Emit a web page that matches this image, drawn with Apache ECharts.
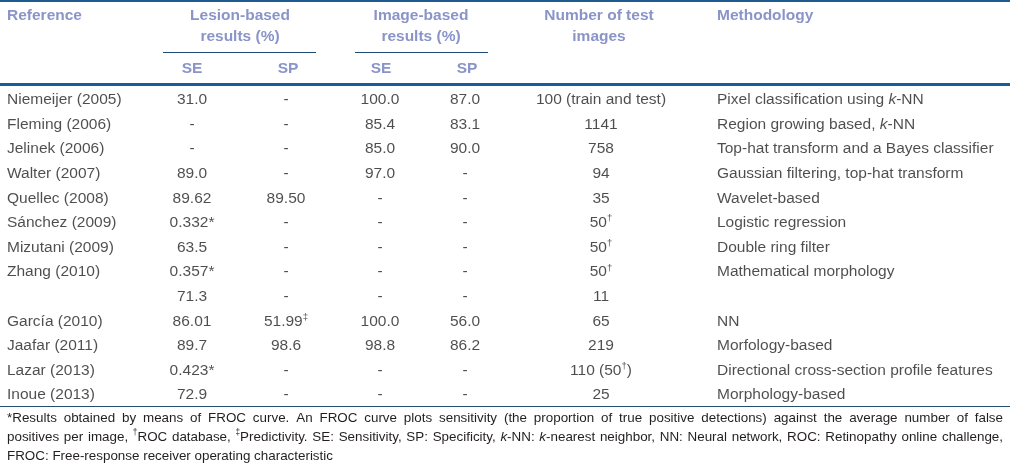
<!DOCTYPE html>
<html><head><meta charset="utf-8">
<script src="https://cdn.jsdelivr.net/npm/echarts@6/dist/echarts.min.js"></script>
<style>html,body{margin:0;padding:0;background:#fff}#c{width:1010px;height:466px}</style>
</head><body><div id="c"></div>
<script>
// ---- data ----
const references = ['Niemeijer (2005)','Fleming (2006)','Jelinek (2006)','Walter (2007)','Quellec (2008)','Sánchez (2009)','Mizutani (2009)','Zhang (2010)','','García (2010)','Jaafar (2011)','Lazar (2013)','Inoue (2013)'];
const lesionSE = ['31.0','-','-','89.0','89.62','0.332*','63.5','0.357*','71.3','86.01','89.7','0.423*','72.9'];
const lesionSP = ['-','-','-','-','89.50','-','-','-','-','51.99‡','98.6','-','-'];
const imageSE = ['100.0','85.4','85.0','97.0','-','-','-','-','-','100.0','98.8','-','-'];
const imageSP = ['87.0','83.1','90.0','-','-','-','-','-','-','56.0','86.2','-','-'];
const testImages = ['100 (train and test)','1141','758','94','35','50†','50†','50†','11','65','219','110 (50†)','25'];
const methodology = ['Pixel classification using k-NN','Region growing based, k-NN','Top-hat transform and a Bayes classifier','Gaussian filtering, top-hat transform','Wavelet-based','Logistic regression','Double ring filter','Mathematical morphology','','NN','Morfology-based','Directional cross-section profile features','Morphology-based'];

const colHeaders = ['Reference', 'Number of test', 'images', 'Methodology'];
const groupHeaders = ['Lesion-based', 'results (%)', 'Image-based', 'results (%)'];
const subHeaders = ['SE', 'SP', 'SE', 'SP'];
const footnote = [
  '*Results obtained by means of FROC curve. An FROC curve plots sensitivity (the proportion of true positive detections) against the average number of false',
  'positives per image, †ROC database, ‡Predictivity. SE: Sensitivity, SP: Specificity, k-NN: k-nearest neighbor, NN: Neural network, ROC: Retinopathy online challenge,',
  'FROC: Free-response receiver operating characteristic'
];

// ---- layout / style ----
const FONT = '"Liberation Sans", Arial, Helvetica, sans-serif';
const bodySize = 15.5, headSize = 15.5, footSize = 13.4;
const textColor = '#231f20', headColor = '#8a94c8';
const columns = [
  {values: references, x: 7, align: 'left'},
  {values: lesionSE, x: 192, align: 'center'},
  {values: lesionSP, x: 286, align: 'center'},
  {values: imageSE, x: 380, align: 'center'},
  {values: imageSP, x: 465, align: 'center'},
  {values: testImages, x: 601, align: 'center'},
  {values: methodology, x: 717, align: 'left'}
];

function richStyles(size) {
  return {
    it: {fontStyle: 'italic', fontSize: size, fontFamily: FONT, color: textColor},
    sup: {fontSize: size * 0.62, fontFamily: FONT, color: textColor, verticalAlign: 'top', lineHeight: size * 1.2}
  };
}
function toRich(s) {
  return s.replace(/(^|[\s(])k-/g, '$1{it|k}-').replace(/([†‡])/g, '{sup|$1}');
}

const rowIdx = references.map((_, i) => String(i));

const series = columns.map(col => ({
  type: 'scatter',
  silent: true,
  symbolSize: 1,
  itemStyle: {color: 'rgba(0,0,0,0)'},
  data: col.values.map((v, i) => [col.x, i, v]),
  label: {
    show: true, position: 'inside', align: col.align, verticalAlign: 'middle',
    color: textColor, fontFamily: FONT, fontSize: bodySize, lineHeight: bodySize * 1.2,
    formatter: p => toRich(p.data[2]),
    rich: richStyles(bodySize)
  }
}));

// ---- header / rules graphics ----
const headFont = 'bold ' + headSize + 'px ' + FONT;
function htext(t, x, y, align) {
  return {type: 'text', x, y, silent: true, style: {text: t, font: headFont, fill: headColor, textAlign: align, textVerticalAlign: 'middle'}};
}
function rule(x1, x2, y, w, c) {
  return {type: 'line', silent: true, shape: {x1, y1: y, x2, y2: y}, style: {stroke: c, lineWidth: w}};
}
const graphics = [
  rule(0, 1010, 1, 2, '#1f5a91'),
  rule(163, 316, 52.5, 1, '#1e4a73'),
  rule(355, 488, 52.5, 1, '#1e4a73'),
  rule(0, 1010, 84.5, 3, '#1a5b9a'),
  rule(0, 1010, 406.5, 1, '#264d70'),
  htext(colHeaders[0], 7, 16, 'left'),
  htext(groupHeaders[0], 240, 16, 'center'),
  htext(groupHeaders[1], 240, 37, 'center'),
  htext(groupHeaders[2], 421, 16, 'center'),
  htext(groupHeaders[3], 421, 37, 'center'),
  htext(colHeaders[1], 599, 16, 'center'),
  htext(colHeaders[2], 599, 37, 'center'),
  htext(colHeaders[3], 717, 16, 'left'),
  htext(subHeaders[0], 192, 69, 'center'),
  htext(subHeaders[1], 288, 69, 'center'),
  htext(subHeaders[2], 381, 69, 'center'),
  htext(subHeaders[3], 467, 69, 'center')
];

// footnote, justified lines 1-2
const footFont = footSize + 'px ' + FONT;
const footRich = richStyles(footSize);
function measure(t) {
  try {
    const el = new echarts.graphic.Text({style: {text: t, font: footFont, fontSize: footSize, fontFamily: FONT, rich: footRich}});
    return el.getBoundingRect().width;
  } catch (e) {
    const ctx = document.createElement('canvas').getContext('2d');
    ctx.font = footFont; return ctx.measureText(t.replace(/\{\w+\|([^}]*)\}/g, '$1')).width;
  }
}
const footY = [418, 437, 456];
const footLeft = 7, footRight = 1003;
footnote.forEach((line, li) => {
  const justify = li < footnote.length - 1;
  if (!justify) {
    graphics.push({type: 'text', x: footLeft, y: footY[li], silent: true,
      style: {text: toRich(line), font: footFont, fontSize: footSize, fontFamily: FONT, fill: textColor, rich: footRich, textVerticalAlign: 'middle'}});
    return;
  }
  const words = line.split(' ').map(toRich);
  const widths = words.map(measure);
  const total = widths.reduce((a, b) => a + b, 0);
  const gap = (footRight - footLeft - total) / (words.length - 1);
  let x = footLeft;
  words.forEach((w, i) => {
    graphics.push({type: 'text', x, y: footY[li], silent: true,
      style: {text: w, font: footFont, fontSize: footSize, fontFamily: FONT, fill: textColor, rich: footRich, textVerticalAlign: 'middle'}});
    x += widths[i] + gap;
  });
});

const chart = echarts.init(document.getElementById('c'), null, {renderer: 'canvas'});
chart.setOption({
  animation: false,
  backgroundColor: '#fff',
  grid: {left: 0, right: 0, top: 87.7, bottom: 58.5, containLabel: false},
  xAxis: {type: 'value', min: 0, max: 1010, show: false},
  yAxis: {type: 'category', data: rowIdx, inverse: true, show: false},
  series,
  graphic: graphics
});
</script></body></html>
